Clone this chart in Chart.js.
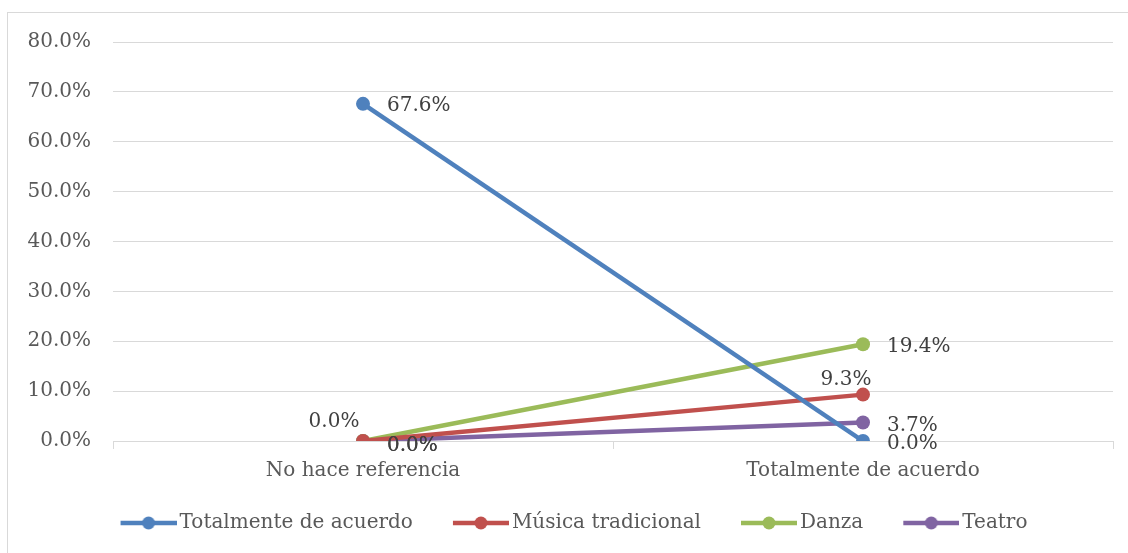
<!DOCTYPE html>
<html>
<head>
<meta charset="utf-8">
<script src="https://cdn.jsdelivr.net/npm/chart.js@4/dist/chart.umd.min.js"></script>
<style>
  html, body { margin: 0; padding: 0; background: #fff; overflow: hidden; }
  #box {
    position: absolute; left: 7px; top: 12px;
    width: 1140px; height: 560px;
    border: 1px solid #d9d9d9; box-sizing: border-box;
  }
  #chart { display: block; }
</style>
</head>
<body>
<div id="box"><canvas id="chart" width="1120" height="540"></canvas></div>
<script>
const categories = ['No hace referencia', 'Totalmente de acuerdo'];
const seriesNames = ['Totalmente de acuerdo', 'Música tradicional', 'Danza', 'Teatro'];
const totalmente = [67.6, 0.0];
const musica = [0.0, 9.3];
const danza = [0.0, 19.4];
const teatro = [0.0, 3.7];
const colors = ['#4F81BD', '#C0504D', '#9BBB59', '#8064A2'];

// where each data label sits relative to its point: [dx, dy, align]
const labelPos = [
  [[24, 2, 'left'], [24, 3, 'left']],
  [[-29, -19, 'center'], [-17, -15, 'center']],
  [[24, 5, 'left'], [24, 3, 'left']],
  [[24, 5, 'left'], [24, 3, 'left']]
];

const FONT = '"DejaVu Serif", "Liberation Serif", serif';

// line + marker icon for the legend (wider than the box so it sits close to the text)
function legendIcon(color) {
  const c = document.createElement('canvas');
  c.width = 90; c.height = 16;
  const g = c.getContext('2d');
  g.strokeStyle = color; g.lineWidth = 4.5;
  g.beginPath(); g.moveTo(34, 8); g.lineTo(90, 8); g.stroke();
  g.fillStyle = color;
  g.beginPath(); g.arc(62, 8, 6.5, 0, Math.PI * 2); g.fill();
  return c;
}

const dataLabels = {
  id: 'dataLabels',
  afterDatasetsDraw(chart) {
    const ctx = chart.ctx;
    ctx.save();
    ctx.font = '20px ' + FONT;
    ctx.fillStyle = '#404040';
    ctx.textBaseline = 'middle';
    chart.data.datasets.forEach((ds, i) => {
      chart.getDatasetMeta(i).data.forEach((pt, j) => {
        const p = labelPos[i][j];
        ctx.textAlign = p[2];
        ctx.fillText(ds.data[j].toFixed(1) + '%', pt.x + p[0], pt.y + p[1]);
      });
    });
    ctx.restore();
  }
};

const allSeries = [totalmente, musica, danza, teatro];

new Chart(document.getElementById('chart'), {
  type: 'line',
  data: {
    labels: categories,
    datasets: allSeries.map((d, i) => ({
      label: seriesNames[i],
      data: d,
      borderColor: colors[i],
      backgroundColor: colors[i],
      borderWidth: 4.5,
      pointRadius: 7,
      pointHoverRadius: 7,
      pointBorderWidth: 0,
      tension: 0
    }))
  },
  options: {
    responsive: false,
    animation: false,
    layout: { padding: { left: 0, right: 15, top: 29, bottom: 10 } },
    scales: {
      x: {
        offset: true,
        afterFit(s) { s.height = 59; },
        grid: { offset: true, drawOnChartArea: false, color: '#d9d9d9', tickLength: 8 },
        border: { color: '#d9d9d9' },
        ticks: { color: '#595959', font: { family: FONT, size: 20 }, padding: 10 }
      },
      y: {
        min: 0, max: 80,
        afterFit(s) { s.width = 105; },
        // invisible tick stubs push the labels away from the plot
        grid: { color: '#d9d9d9', tickColor: 'rgba(0,0,0,0)', tickLength: 14 },
        border: { display: false },
        ticks: {
          stepSize: 10,
          color: '#595959',
          padding: 8,
          font: { family: FONT, size: 20 },
          callback: v => v.toFixed(1) + '%'
        }
      }
    },
    plugins: {
      tooltip: { enabled: false },
      legend: {
        position: 'bottom',
        labels: {
          usePointStyle: true,
          pointStyleWidth: 76,
          color: '#595959',
          font: { family: FONT, size: 20 },
          padding: 13,
          generateLabels(chart) {
            return chart.data.datasets.map((ds, i) => ({
              text: ds.label,
              fillStyle: ds.borderColor,
              strokeStyle: ds.borderColor,
              pointStyle: legendIcon(ds.borderColor),
              fontColor: '#595959',
              datasetIndex: i,
              hidden: false
            }));
          }
        }
      }
    }
  },
  plugins: [dataLabels]
});
</script>
</body>
</html>
